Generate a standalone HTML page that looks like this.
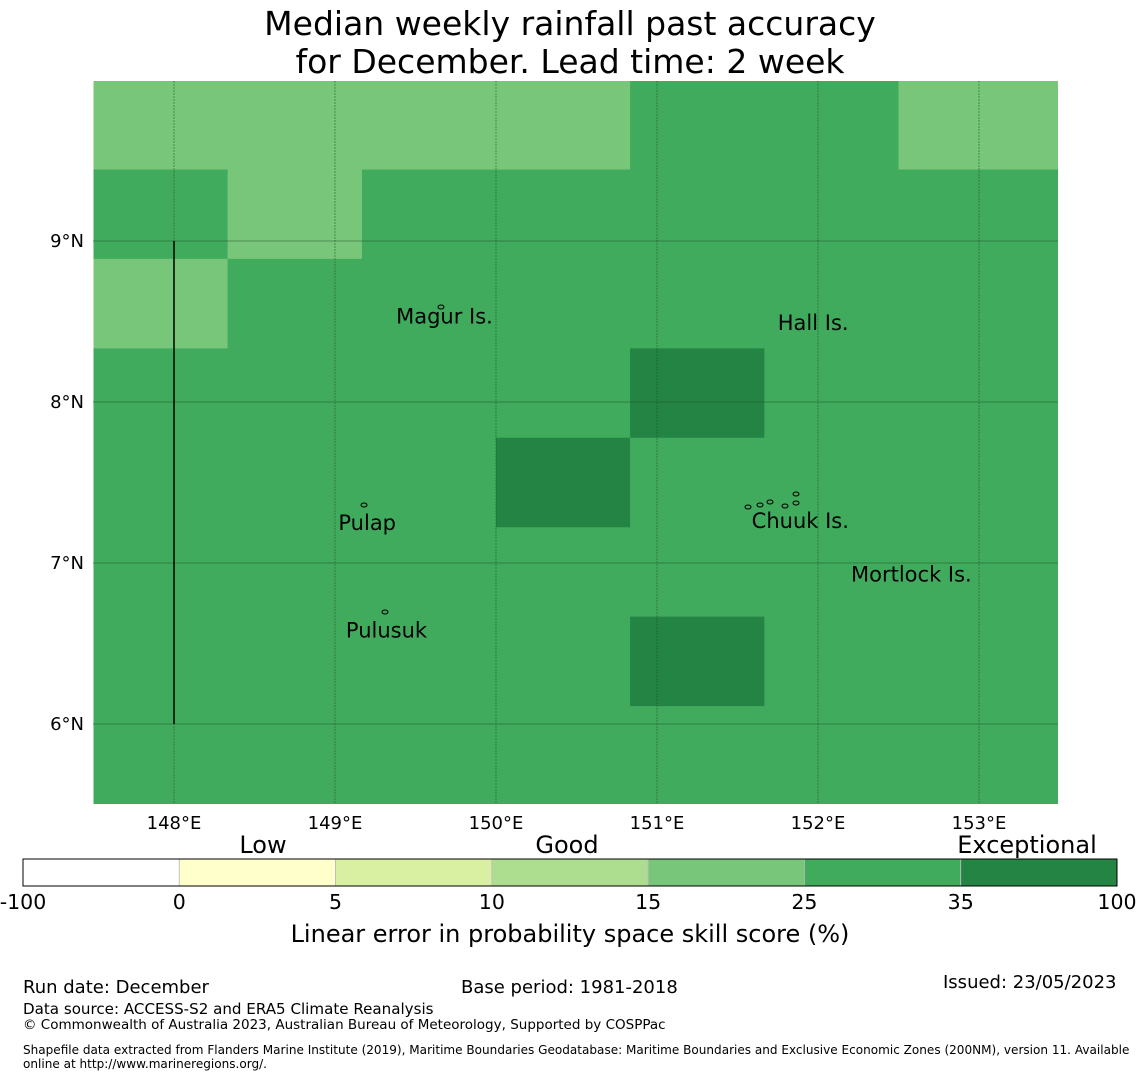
<!DOCTYPE html>
<html><head><meta charset="utf-8">
<style>
body{margin:0;background:#fff;font-family:"DejaVu Sans","Liberation Sans",sans-serif;}
#wrap{position:relative;width:1140px;height:1080px;overflow:hidden;}
.t{position:absolute;white-space:nowrap;color:#000;}
</style></head>
<body>
<div id="wrap">
<div class="t" style="left:0;width:1140px;top:5px;text-align:center;font-size:33px;line-height:38px;">Median weekly rainfall past accuracy<br>for December. Lead time: 2 week</div>
<svg id="map" width="1140" height="1080" style="position:absolute;left:0;top:0"></svg>
<div class="t" style="left:23px;top:977px;font-size:18px;">Run date: December</div>
<div class="t" style="left:461px;top:977px;font-size:18px;">Base period: 1981-2018</div>
<div class="t" style="left:943px;top:972px;font-size:18px;">Issued: 23/05/2023</div>
<div class="t" style="left:23px;top:1000px;font-size:15.1px;">Data source: ACCESS-S2 and ERA5 Climate Reanalysis</div>
<div class="t" style="left:23px;top:1017px;font-size:13.5px;">© Commonwealth of Australia 2023, Australian Bureau of Meteorology, Supported by COSPPac</div>
<div class="t" style="left:23px;top:1043px;font-size:12.05px;line-height:14px;">Shapefile data extracted from Flanders Marine Institute (2019), Maritime Boundaries Geodatabase: Maritime Boundaries and Exclusive Economic Zones (200NM), version 11. Available<br>online at http://www.marineregions.org/.</div>
</div>
<script>
const lonEdges=[147.5,148.333,149.167,150,150.833,151.667,152.5,153.333,154.167];
const latEdges=[10,9.444,8.889,8.333,7.778,7.222,6.667,6.111,5.5];
const skillRow0=[20,20,20,20,30,30,20,20];
const skillRow1=[30,20,30,30,30,30,30,30];
const skillRow2=[20,30,30,30,30,30,30,30];
const skillRow3=[30,30,30,30,40,30,30,30];
const skillRow4=[30,30,30,40,30,30,30,30];
const skillRow5=[30,30,30,30,30,30,30,30];
const skillRow6=[30,30,30,30,40,30,30,30];
const skillRow7=[30,30,30,30,30,30,30,30];
const skillRows=[skillRow0,skillRow1,skillRow2,skillRow3,skillRow4,skillRow5,skillRow6,skillRow7];
const lonTicks=[148,149,150,151,152,153];
const latTicks=[9,8,7,6];
const cbBounds=[-100,0,5,10,15,25,35,100];
const cbColors=['#ffffff','#ffffcc','#d9f0a3','#addd8e','#78c679','#41ab5d','#238443'];
const places=[["Magur Is.",149.68,8.53],["Hall Is.",151.97,8.49],["Pulap",149.20,7.25],["Chuuk Is.",151.89,7.26],["Mortlock Is.",152.58,6.93],["Pulusuk",149.32,6.58]];

const FF='DejaVu Sans, Liberation Sans, sans-serif';
const X0=93,X1=1058,Y0=81,Y1=804;
const x=lon=>174+(lon-148)*161;
const y=lat=>241-(lat-9)*161;
const svg=document.getElementById('map');
const NS='http://www.w3.org/2000/svg';
function mk(tag,attrs,parent){const e=document.createElementNS(NS,tag);for(const k in attrs)e.setAttribute(k,attrs[k]);(parent||svg).appendChild(e);return e;}
function colorFor(v){for(let i=0;i<cbColors.length;i++){if(v<cbBounds[i+1])return cbColors[i];}return cbColors[cbColors.length-1];}

const defs=mk('defs',{});const cp=mk('clipPath',{id:'mc'},defs);mk('rect',{x:X0,y:Y0,width:X1-X0,height:Y1-Y0},cp);
const g=mk('g',{'clip-path':'url(#mc)'});


skillRows.forEach((row,r)=>row.forEach((v,c)=>{
  const xa=x(lonEdges[c]),xb=x(lonEdges[c+1]),ya=y(latEdges[r]),yb=y(latEdges[r+1]);
  const rc=mk('rect',{x:xa,y:ya,width:xb-xa+0.5,height:yb-ya+0.5,fill:colorFor(v)},g);
  
  
}));
lonTicks.forEach(l=>{
  const ln=mk('line',{x1:x(l),x2:x(l),y1:Y0,y2:Y1,stroke:'#1a4a25','stroke-width':0.8,'stroke-dasharray':'2,1','stroke-opacity':0.6});
  
  
  const t=mk('text',{x:x(l),y:829,'font-size':18,'text-anchor':'middle','font-family':FF});t.textContent=l+'°E';
  
  
});
latTicks.forEach(l=>{
  const ln=mk('line',{x1:X0,x2:X1,y1:y(l),y2:y(l),stroke:'#1a4a25','stroke-width':0.8,'stroke-opacity':0.6});
  
  
  const t=mk('text',{x:84,y:y(l)+6,'font-size':18,'text-anchor':'end','font-family':FF});t.textContent=l+'°N';
  
  
});
const bl=mk('line',{x1:x(148),x2:x(148),y1:y(9),y2:y(6),stroke:'#000','stroke-width':1.5});


[[441,307],[364,505],[385,612],[748,507],[760,505],[770,502],[785,506],[796,494],[796,503]].forEach(p=>{
  const e=mk('ellipse',{cx:p[0],cy:p[1],rx:3,ry:2,fill:'none',stroke:'#000','stroke-width':1});
  
  
});
places.forEach(p=>{
  const t=mk('text',{x:x(p[1]),y:y(p[2])+7,'font-size':21,'text-anchor':'middle','font-family':FF});t.textContent=p[0];
  
  
});
const cbX0=23,cbX1=1117,cbY=859,cbH=27,segW=(cbX1-cbX0)/cbColors.length;
cbColors.forEach((c,i)=>{
  const r=mk('rect',{x:cbX0+i*segW,y:cbY,width:segW,height:cbH,fill:c,stroke:'#bbb','stroke-width':0.8});
  
  
});
const cbo=mk('rect',{x:cbX0,y:cbY,width:cbX1-cbX0,height:cbH,fill:'none',stroke:'#000','stroke-width':1});


cbBounds.forEach((b,i)=>{
  const t=mk('text',{x:cbX0+i*segW,y:909,'font-size':20.5,'text-anchor':'middle','font-family':FF});t.textContent=b;
  
  
});
[["Low",263],["Good",567],["Exceptional",1027]].forEach(a=>{
  const t=mk('text',{x:a[1],y:853,'font-size':24,'text-anchor':'middle','font-family':FF});t.textContent=a[0];
  
  
});
const ct=mk('text',{x:570,y:942,'font-size':24,'text-anchor':'middle','font-family':FF});ct.textContent='Linear error in probability space skill score (%)';


</script>
</body></html>
